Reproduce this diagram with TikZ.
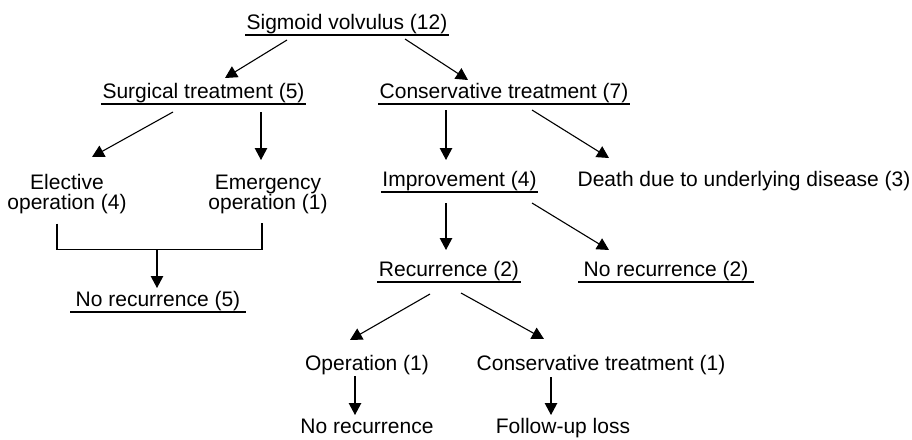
\documentclass[tikz,border=0pt]{standalone}
\usepackage{fontspec}
\setmainfont{Liberation Sans}
\usetikzlibrary{calc,arrows.meta}

\begin{document}
\begin{tikzpicture}[x=1pt,y=-1pt,font=\fontsize{21}{20}\selectfont,
  >={Triangle[length=12pt,width=12.5pt]},line width=1.1pt,
  lbl/.style={inner sep=1pt,anchor=base},
  ul/.style={lbl,append after command={(\tikzlastnode.south west) edge[-,line width=1.3pt] (\tikzlastnode.south east)}},
  two/.style={inner sep=1pt,anchor=north,align=center}]
  \useasboundingbox (0,0) rectangle (912,439);
  \node[ul] (sig) at (347,29) {Sigmoid volvulus (12)};
  \node[ul] (sur) at (203.5,98) {Surgical treatment (5)};
  \node[ul] (con) at (504,98) {Conservative treatment (7)};
  \node[two] (ele) at (67,173) {Elective\\operation (4)};
  \node[two] (eme) at (268,173) {Emergency\\operation (1)};
  \node[ul] (imp) at (459.5,186) {Improvement (4)};
  \node[lbl] (dth) at (744,186) {Death due to underlying disease (3)};
  \node[ul,inner xsep=5pt] (nr5) at (158,306) {No recurrence (5)};
  \node[ul] (rec) at (449,276) {Recurrence (2)};
  \node[ul,inner xsep=5pt] (nr2) at (666,276) {No recurrence (2)};
  \node[lbl] (op1) at (367,370) {Operation (1)};
  \node[lbl] (ct1) at (601,370) {Conservative treatment (1)};
  \node[lbl] (nr) at (367,433) {No recurrence};
  \node[lbl] (fu) at (563,433) {Follow-up loss};
  \coordinate (jn) at (157,249.5);
  % first split
  \draw[->] ($(sig.base)+(-60,11)$) -- ($(sur.base)+(21.5,-20)$);
  \draw[->] ($(sig.base)+(58,10)$) -- ($(con.base)+(-36,-18)$);
  % surgical branch
  \draw[->] ($(sur.base)+(-30.5,14)$) -- ($(ele.north)+(25,-16)$);
  \draw[->] ($(sur.base)+(57.5,14)$) -- ($(eme.north)+(-7,-13)$);
  \draw ($(ele.south)+(-10,8)$) |- (jn) -| ($(eme.south)+(-6,8)$);
  \draw[->] (jn) -- ($(nr5.base)+(-1,-18)$);
  % conservative branch
  \draw[->] ($(con.base)+(-58,12)$) -- ($(imp.base)+(-13.5,-26)$);
  \draw[->] ($(con.base)+(28,12)$) -- ($(dth.base)+(-135,-28)$);
  \draw[->] ($(imp.base)+(-13.5,17)$) -- ($(rec.base)+(-3,-26)$);
  \draw[->] ($(imp.base)+(72.5,17)$) -- ($(nr2.base)+(-57,-26)$);
  \draw[->] ($(rec.base)+(-19,18)$) -- ($(op1.base)+(-17,-30)$);
  \draw[->] ($(rec.base)+(12,17)$) -- ($(ct1.base)+(-57,-31)$);
  \draw[->] ($(op1.base)+(-12,6)$) -- ($(nr.base)+(-12,-18)$);
  \draw[->] ($(ct1.base)+(-50,7)$) -- ($(fu.base)+(-12,-18)$);
\end{tikzpicture}
\end{document}
